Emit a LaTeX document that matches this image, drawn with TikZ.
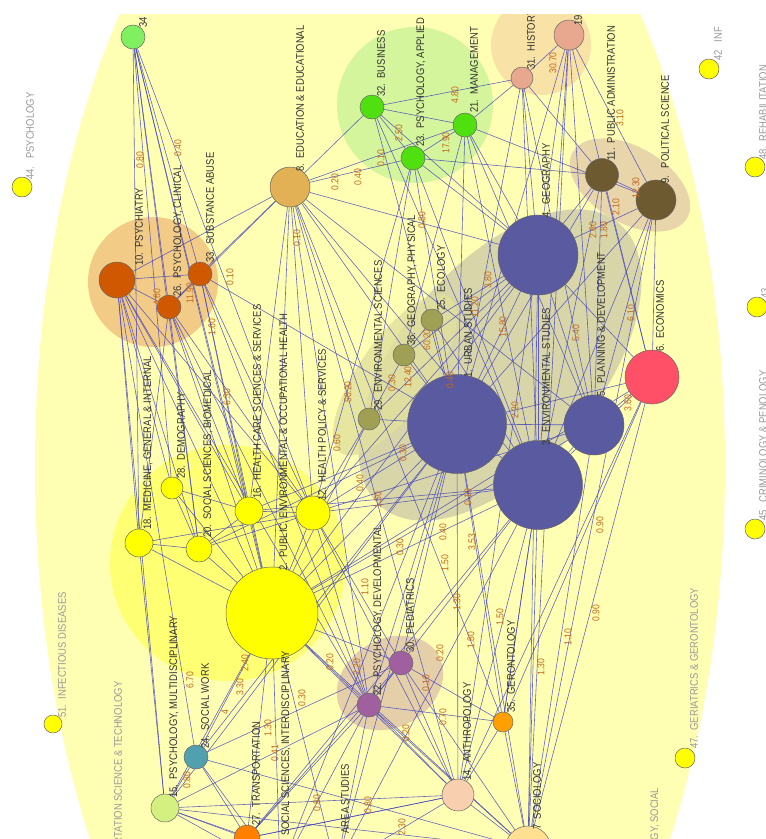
\documentclass[tikz,border=0pt]{standalone}
\usepackage{fontspec}
\newfontfamily\labelfont[FakeStretch=0.86]{Liberation Sans}
\usetikzlibrary{positioning}
\pgfdeclarelayer{back}
\pgfdeclarelayer{links}
\pgfsetlayers{back,links,main}

\definecolor{bgyellow}{HTML}{FFFFB4}
\definecolor{linkblue}{HTML}{4040C0}
\definecolor{wtorange}{HTML}{C4681E}
\definecolor{yelfield}{HTML}{FFFF00}
\definecolor{green34}{HTML}{80F060}
\definecolor{grnfield}{HTML}{50E010}
\definecolor{tan8}{HTML}{E2B055}
\definecolor{salmon}{HTML}{E8A890}
\definecolor{brownfield}{HTML}{6E5A30}
\definecolor{bluefield}{HTML}{5A5AA0}
\definecolor{redfield}{HTML}{FF5068}
\definecolor{olivefield}{HTML}{A0A055}
\definecolor{orgfield}{HTML}{D05800}
\definecolor{lime15}{HTML}{D4F080}
\definecolor{teal24}{HTML}{50A0B0}
\definecolor{org27}{HTML}{FF8000}
\definecolor{purpfield}{HTML}{A060A0}
\definecolor{peach14}{HTML}{F8D0B0}
\definecolor{org35}{HTML}{FFA000}
\definecolor{sand7}{HTML}{FFE090}
\definecolor{grnzone}{HTML}{D4F59C}
\definecolor{salzone}{HTML}{F8E2A6}
\definecolor{brnzone}{HTML}{E8D6AA}
\definecolor{orgzone}{HTML}{F2CC86}
\definecolor{yelzone}{HTML}{FFFF74}
\definecolor{purzone}{HTML}{E4CFA8}
\definecolor{grayzone}{HTML}{D8D6A8}
\definecolor{olivezone}{HTML}{E2E09C}

\tikzset{
  field/.style={circle, draw=black!60, line width=0.5pt, inner sep=0pt, minimum size=#1},
  catlabel/.style={rotate=90, anchor=west, inner sep=0pt, text=black!80,
    font=\labelfont\fontsize{11}{12}\selectfont},
  farlabel/.style={catlabel, text=black!40},
  weight/.style={rotate=90, inner sep=0pt, text=wtorange,
    font=\labelfont\fontsize{10}{11}\selectfont},
  link/.style={draw=linkblue, line width=0.6pt, draw opacity=0.8},
}

\begin{document}
\begin{tikzpicture}[x=1pt,y=-1pt]
\useasboundingbox (0,0) rectangle (766,839);
\begin{scope}
\clip (0,14) rectangle (766,839);

% fields
\node[field=24pt, fill=green34] (n34) at (133,37) {};
\node[field=40pt, fill=tan8] (n8) at (290,187) {};
\node[field=24pt, fill=grnfield] (n32) at (372,107) {};
\node[field=24pt, fill=grnfield] (n23) at (413,158) {};
\node[field=24pt, fill=grnfield] (n21) at (465,125) {};
\node[field=22pt, fill=salmon] (n31) at (522,78) {};
\node[field=30pt, fill=salmon] (n19) at (569,35) {};
\node[field=33pt, fill=brownfield] (n11) at (602,175) {};
\node[field=40pt, fill=brownfield] (n9) at (656,200) {};
\node[field=80pt, fill=bluefield] (n4) at (538,255) {};
\node[field=54pt, fill=redfield] (n6) at (652,377) {};
\node[field=60pt, fill=bluefield] (n5) at (594,425) {};
\node[field=89pt, fill=bluefield] (n3) at (538,485) {};
\node[field=99pt, fill=bluefield] (n1) at (457,424) {};
\node[field=22pt, fill=olivefield] (n25) at (432,320) {};
\node[field=22pt, fill=olivefield] (n36) at (404,355) {};
\node[field=22pt, fill=olivefield] (n29) at (369,419) {};
\node[field=36pt, fill=orgfield] (n10) at (117,280) {};
\node[field=24pt, fill=orgfield] (n26) at (169,307) {};
\node[field=24pt, fill=orgfield] (n33) at (200,274) {};
\node[field=28pt, fill=yelfield] (n18) at (139,543) {};
\node[field=22pt, fill=yelfield] (n28) at (172,488) {};
\node[field=26pt, fill=yelfield] (n20) at (199,549) {};
\node[field=28pt, fill=yelfield] (n16) at (249,511) {};
\node[field=34pt, fill=yelfield] (n12) at (313,513) {};
\node[field=92pt, fill=yelfield] (n2) at (272,613) {};
\node[field=28pt, fill=lime15] (n15) at (165,808) {};
\node[field=24pt, fill=teal24] (n24) at (196,757) {};
\node[field=26pt, fill=org27] (n27) at (247,838) {};
\node[field=28pt, fill=yelfield] (n13) at (280,872) {};
\node[field=28pt, fill=yelfield] (n17) at (336,868) {};
\node[field=24pt, fill=purpfield] (n22) at (369,705) {};
\node[field=24pt, fill=purpfield] (n30) at (401,663) {};
\node[field=32pt, fill=peach14] (n14) at (458,795) {};
\node[field=20pt, fill=org35] (n35) at (503,722) {};
\node[field=46pt, fill=sand7] (n7) at (528,849) {};
\node[field=20pt, fill=yelfield] (n44) at (22,187) {};
\node[field=20pt, fill=yelfield] (n42) at (709,69) {};
\node[field=20pt, fill=yelfield] (n48) at (755,167) {};
\node[field=20pt, fill=yelfield] (n43) at (757,307) {};
\node[field=20pt, fill=yelfield] (n45) at (755,529) {};
\node[field=20pt, fill=yelfield] (n47) at (685,758) {};
\node[field=18pt, fill=yelfield] (n51) at (53,724) {};
\node[field=20pt, fill=yelfield] (n50) at (110,895) {};
\node[field=20pt, fill=yelfield] (n46) at (648,905) {};

% labels
\node[catlabel] (l34) at (143,28) {34};
\node[farlabel] (l44) at (30,180) {44.~~~PSYCHOLOGY};
\node[catlabel] (l8) at (300,172) {8.~~EDUCATION \& EDUCATIONAL};
\node[catlabel] (l32) at (381,97) {32.~~BUSINESS};
\node[catlabel] (l23) at (421,147) {23.~~PSYCHOLOGY, APPLIED};
\node[catlabel] (l21) at (474,113) {21.~~MANAGEMENT};
\node[catlabel] (l31) at (531,70) {31.~~HISTORY};
\node[catlabel] (l19) at (578,26) {19.};
\node[catlabel] (l11) at (611,161) {11.~~PUBLIC ADMINISTRATION};
\node[catlabel] (l9) at (665,184) {9.~~~POLITICAL SCIENCE};
\node[catlabel] (l4) at (546,218) {4.~~GEOGRAPHY};
\node[catlabel] (l6) at (660,352) {6.~~ECONOMICS};
\node[catlabel] (l5) at (601,397) {5.~~PLANNING \& DEVELOPMENT};
\node[catlabel] (l3) at (546,446) {3.~~ENVIRONMENTAL STUDIES};
\node[catlabel] (l1) at (468,378) {1.~~URBAN STUDIES};
\node[catlabel] (l25) at (441,311) {25.~~ECOLOGY};
\node[catlabel] (l36) at (412,346) {36.~~GEOGRAPHY, PHYSICAL};
\node[catlabel] (l29) at (378,411) {29.~~ENVIRONMENTAL SCIENCES};
\node[catlabel] (l10) at (139,266) {10.~~PSYCHIATRY};
\node[catlabel] (l26) at (178,297) {26.~~PSYCHOLOGY, CLINICAL};
\node[catlabel] (l33) at (210,263) {33.~~SUBSTANCE ABUSE};
\node[catlabel] (l18) at (148,530) {18.~~MEDICINE, GENERAL \& INTERNAL};
\node[catlabel] (l28) at (181,479) {28.~~DEMOGRAPHY};
\node[catlabel] (l20) at (208,538) {20.~~SOCIAL SCIENCES, BIOMEDICAL};
\node[catlabel] (l16) at (257,499) {16.~~HEALTH CARE SCIENCES \& SERVICES};
\node[catlabel] (l12) at (322,501) {12.~~HEALTH POLICY \& SERVICES};
\node[catlabel] (l2) at (284,571) {2.~~PUBLIC, ENVIRONMENTAL \& OCCUPATIONAL HEALTH};
\node[catlabel] (l15) at (174,798) {15.~~PSYCHOLOGY, MULTIDISCIPLINARY};
\node[catlabel] (l24) at (205,749) {24.~~SOCIAL WORK};
\node[catlabel] (l27) at (256,826) {27.~~TRANSPORTATION};
\node[catlabel] (l13) at (286,836) {SOCIAL SCIENCES, INTERDISCIPLINARY};
\node[catlabel] (l22) at (378,696) {22.~~PSYCHOLOGY, DEVELOPMENTAL};
\node[catlabel] (l30) at (410,653) {30.~~PEDIATRICS};
\node[catlabel] (l14) at (467,781) {14.~~ANTHROPOLOGY};
\node[catlabel] (l35) at (511,713) {35.~~GERONTOLOGY};
\node[catlabel] (l7) at (537,830) {7~~SOCIOLOGY};
\node[catlabel] (l17) at (345,852) {17.~~AREA STUDIES};
\node[farlabel] (l47) at (694,749) {47.~~GERIATRICS \& GERONTOLOGY};
\node[farlabel] (l45) at (763,521) {45~~~CRIMINOLOGY \& PENOLOGY};
\node[farlabel] (l43) at (765,299) {43.};
\node[farlabel] (l48) at (763,160) {48.~~REHABILITATION};
\node[farlabel] (l42) at (718,61) {42~~~INF};
\node[farlabel] (l51) at (62,718) {51.~~INFECTIOUS DISEASES};
\node[farlabel] (l50) at (118,890) {TRANSPORTATION SCIENCE \& TECHNOLOGY};
\node[farlabel] (l46) at (655,893) {PSYCHOLOGY, SOCIAL};

% weights
\foreach \x/\y/\t [count=\k] in {140/160/0.80, 178/148/0.40, 335/182/0.20,
  358/177/0.40, 381/158/0.10, 455/95/4.80, 446/143/17.90, 399/133/2.50,
  553/63/30.70, 620/118/3.10, 636/188/12.30, 616/207/2.10, 593/230/2.60,
  604/230/1.80, 422/220/0.80, 297/238/0.10, 230/277/0.10, 212/327/1.60,
  190/293/11.90, 157/297/4.60, 227/397/6.30, 337/443/0.60, 348/392/50.20,
  360/483/0.40, 378/500/1.50, 403/453/0.30, 468/497/0.10, 443/532/0.40,
  472/542/3.53, 445/563/1.50, 400/547/0.30, 365/587/1.10, 457/602/1.30,
  500/617/1.50, 541/667/1.30, 568/637/1.10, 596/613/0.90, 600/525/0.90,
  443/717/0.70, 426/683/0.10, 440/653/0.20, 471/640/1.80, 406/733/0.20,
  190/680/6.70, 240/687/3.30, 245/663/2.40, 268/728/1.30, 275/753/0.41,
  302/698/0.30, 187/780/0.80, 225/712/4, 330/662/0.20, 357/667/2.20,
  317/803/0.80, 402/827/2.30, 368/805/0.80, 628/403/3.60, 631/313/6.10,
  576/333/5.40, 427/340/60.20, 408/377/12.40, 392/383/0.30, 450/380/0.40,
  475/307/11.20, 488/280/3.80, 503/327/15.80, 515/410/2.20}
  \node[weight] (w\k) at (\x,\y) {\t};
\end{scope}

% links
\begin{pgfonlayer}{links}
\begin{scope}
\clip (0,14) rectangle (766,839);
\foreach \a/\b in {n34/n18, n34/n26, n34/n33, n34/n28, n34/n20, n34/n16, n34/n2, n34/n12,
  n8/n32, n8/n23, n8/n21, n8/n10, n8/n26, n8/n1, n8/n3, n8/n4, n8/n2, n8/n12,
  n8/n16, n8/n22, n8/n29, n8/n14, n8/n35, n8/n5,
  n10/n18, n10/n28, n10/n20, n10/n16, n10/n2, n10/n12, n10/n22, n10/n15,
  n10/n24, n10/n26, n10/n33,
  n26/n2, n26/n16, n26/n20, n26/n18, n26/n12, n26/n22, n26/n33,
  n33/n2, n33/n12, n33/n16, n33/n8, n33/n1, n33/n22,
  n32/n23, n32/n21, n32/n4, n32/n1, n32/n3, n32/n31,
  n23/n21, n23/n1, n23/n3, n23/n11, n23/n4, n23/n29, n23/n12,
  n21/n31, n21/n4, n21/n1, n21/n3, n21/n5, n21/n9, n21/n36,
  n31/n19, n31/n4, n31/n1, n31/n3, n31/n11, n31/n5,
  n19/n4, n19/n3, n19/n5, n19/n9, n19/n6, n19/n1, n19/n7,
  n11/n9, n11/n4, n11/n5, n11/n3, n11/n6, n11/n1,
  n9/n6, n9/n5, n9/n3, n9/n4, n9/n1, n9/n7,
  n4/n1, n4/n3, n4/n5, n4/n6, n4/n25, n4/n36, n4/n12, n4/n2, n4/n14, n4/n7, n4/n29,
  n6/n5, n6/n3, n6/n1, n6/n7, n6/n14, n6/n2, n6/n35,
  n5/n3, n5/n1, n5/n7, n5/n2, n5/n12,
  n3/n1, n3/n7, n3/n14, n3/n2, n3/n12, n3/n22, n3/n35, n3/n27, n3/n17, n3/n16,
  n1/n2, n1/n12, n1/n16, n1/n22, n1/n30, n1/n14, n1/n7, n1/n17, n1/n13, n1/n24,
  n1/n15, n1/n29, n1/n36, n1/n25, n1/n20,
  n25/n36, n36/n29, n29/n12, n29/n2, n25/n3,
  n12/n16, n12/n2, n12/n20, n12/n18, n12/n30, n12/n22, n12/n14,
  n2/n16, n2/n20, n2/n18, n2/n28, n2/n15, n2/n24, n2/n27, n2/n13, n2/n22,
  n2/n30, n2/n14, n2/n7, n2/n17,
  n22/n30, n22/n14, n22/n7, n22/n17, n22/n13, n22/n27, n22/n35, n22/n15,
  n30/n14, n30/n35, n30/n7, n30/n27,
  n14/n7, n14/n35, n14/n17, n14/n27,
  n15/n24, n15/n27, n15/n13, n15/n17, n15/n14, n15/n7, n15/n18,
  n24/n13, n24/n27, n24/n7, n24/n30,
  n7/n35, n35/n1, n35/n3, n27/n13, n27/n14, n17/n13, n17/n7,
  n16/n20, n18/n20, n28/n20, n16/n28}
  \draw[link] (\a) -- (\b);
\end{scope}
\end{pgfonlayer}

% zones
\begin{pgfonlayer}{back}
\begin{scope}
\clip (0,14) rectangle (766,839);
\fill[bgyellow] (380,466) ellipse [x radius=345pt, y radius=688pt];
\fill[grnzone] (415,105) circle [radius=78pt];
\fill[salzone] (541,45) circle [radius=50pt];
\fill[brnzone, rotate around={-30:(630,185)}] (630,185) ellipse [x radius=66pt, y radius=38pt];
\fill[orgzone] (153,282) circle [radius=65pt];
\fill[yelzone] (228,563) circle [radius=118pt];
\fill[grayzone, rotate around={50:(500,365)}] (500,365) ellipse [x radius=185pt, y radius=100pt];
\fill[olivezone, opacity=0.8, rotate around={55:(395,375)}] (395,375) ellipse [x radius=95pt, y radius=36pt];
\fill[purzone, rotate around={30:(390,683)}] (390,683) ellipse [x radius=56pt, y radius=44pt];
\end{scope}
\end{pgfonlayer}
\end{tikzpicture}
\end{document}
